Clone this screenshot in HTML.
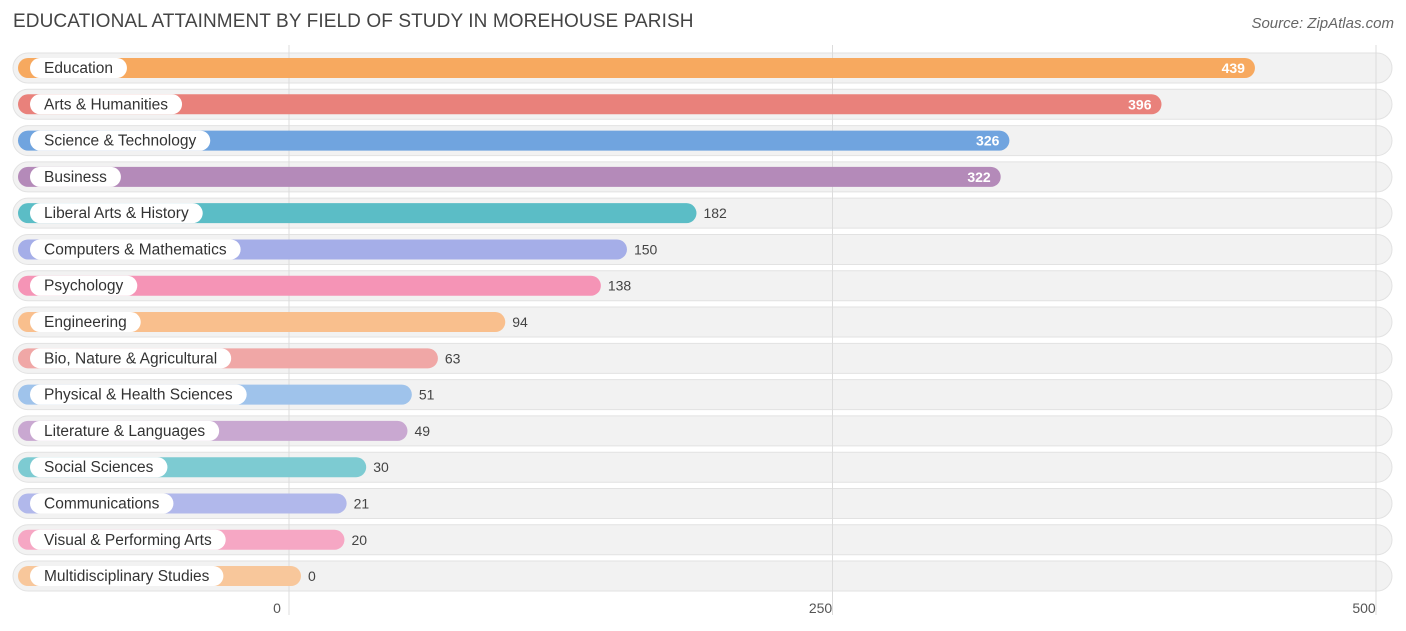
<!DOCTYPE html>
<html><head><meta charset="utf-8"><style>
body{margin:0;background:#fff;font-family:"Liberation Sans",sans-serif;}
#wrap{position:relative;width:1406px;height:631px;overflow:hidden;}
.title{position:absolute;left:13px;top:11px;font-size:19px;color:#444;letter-spacing:0.1px}
.src{position:absolute;right:12px;top:15px;font-size:15px;color:#666;font-style:italic}
</style></head><body>
<div id="wrap">
<div class="title">EDUCATIONAL ATTAINMENT BY FIELD OF STUDY IN MOREHOUSE PARISH</div>
<div class="src">Source: ZipAtlas.com</div>
<svg id="svg" width="1406" height="631" style="position:absolute;left:0;top:0"></svg>
</div>
<script>
const categories=["Education","Arts & Humanities","Science & Technology","Business","Liberal Arts & History","Computers & Mathematics","Psychology","Engineering","Bio, Nature & Agricultural","Physical & Health Sciences","Literature & Languages","Social Sciences","Communications","Visual & Performing Arts","Multidisciplinary Studies"];
const values=[439,396,326,322,182,150,138,94,63,51,49,30,21,20,0];
const colors=["#f7a95f","#e9817b","#70a4df","#b48ab9","#5bbdc6","#a5aee8","#f594b6","#f9bf8d","#f0a7a6","#9fc3eb","#c9a8d1","#7dcbd2","#b1b8eb","#f6a7c4","#f8c79b"];
const ticks=[0,250,500];
const svg=document.getElementById('svg');
const NS='http://www.w3.org/2000/svg';
const x=v=>301+v*2.173;
const gx=v=>289+v*2.174;
const y=i=>68+i*36.29;
function mk(t,a){const e=document.createElementNS(NS,t);for(const k in a)e.setAttribute(k,a[k]);svg.appendChild(e);return e;}
categories.forEach((c,i)=>{
  const t=mk('rect',{x:13,y:y(i)-15,width:1379,height:30,rx:15,fill:'#f2f2f2',stroke:'#e2e2e2'});
  
  
});
ticks.forEach(v=>{
  const l=mk('line',{x1:gx(v),x2:gx(v),y1:45,y2:615,stroke:'#dcdcdc'});
  
  
  const t=mk('text',{x:gx(v)-12,y:613,'font-size':14,fill:'#555','text-anchor':'middle'});
  t.textContent=v;
  
  
});
categories.forEach((c,i)=>{
  const cy=y(i),v=values[i],xe=x(v);
  const b=mk('rect',{x:18,y:cy-10,width:xe-18,height:20,rx:10,fill:colors[i]});
  
  
  const lbl=mk('text',{x:44,y:cy+5,'font-size':15.5,fill:'#333'});
  lbl.textContent=c;
  const w=lbl.getComputedTextLength();
  const pill=mk('rect',{x:30,y:cy-10,width:w+28,height:20,rx:10,fill:'#fff'});
  svg.insertBefore(pill,lbl);
  
  
  
  
  const inside=v>300;
  const vt=mk('text',{x:inside?xe-10:xe+7,y:cy+5,'font-size':14,fill:inside?'#fff':'#444','text-anchor':inside?'end':'start','font-weight':inside?'bold':'normal'});
  vt.textContent=v;
  
  
});
</script>
</body></html>
